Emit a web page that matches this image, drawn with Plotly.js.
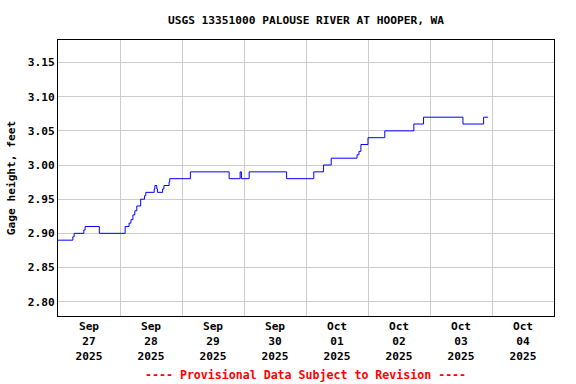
<!DOCTYPE html>
<html>
<head>
<meta charset="utf-8">
<script src="https://cdn.plot.ly/plotly-3.0.1.min.js"></script>
<style>
  html, body { margin: 0; padding: 0; background: #fff; }
  #chart { width: 576px; height: 384px; }
</style>
</head>
<body>
<div id="chart"></div>
<script>
// Gage height step changes (time of change, value in feet)
const times = [
  '2025-09-27 00:00', '2025-09-27 05:45', '2025-09-27 06:15', '2025-09-27 10:00',
  '2025-09-27 10:30', '2025-09-27 16:00', '2025-09-28 02:00', '2025-09-28 03:30',
  '2025-09-28 04:15', '2025-09-28 05:00', '2025-09-28 05:45', '2025-09-28 06:30',
  '2025-09-28 08:00', '2025-09-28 09:30', '2025-09-28 10:00', '2025-09-28 13:15',
  '2025-09-28 13:30', '2025-09-28 14:15', '2025-09-28 14:30', '2025-09-28 16:30',
  '2025-09-28 17:00', '2025-09-28 19:00', '2025-09-28 19:15', '2025-09-29 03:15',
  '2025-09-29 18:15', '2025-09-29 22:30', '2025-09-29 23:00', '2025-09-30 02:00',
  '2025-09-30 16:30', '2025-10-01 03:00', '2025-10-01 06:45', '2025-10-01 09:45',
  '2025-10-01 19:45', '2025-10-01 20:30', '2025-10-01 21:15', '2025-10-02 00:00',
  '2025-10-02 06:30', '2025-10-02 17:45', '2025-10-02 21:30', '2025-10-03 12:45',
  '2025-10-03 20:45', '2025-10-03 22:30'
];
const gageHeight = [
  2.89, 2.895, 2.90, 2.905,
  2.91, 2.90, 2.91, 2.915,
  2.92, 2.927, 2.933, 2.94,
  2.95, 2.955, 2.96, 2.965,
  2.97, 2.965, 2.96, 2.965,
  2.97, 2.975, 2.98, 2.99,
  2.98, 2.99, 2.98, 2.99,
  2.98, 2.99, 3.00, 3.01,
  3.015, 3.02, 3.03, 3.04,
  3.05, 3.06, 3.07, 3.06,
  3.07, 3.07
];

// X tick labels (centered at noon of each day)
const xTickVals = [
  '2025-09-27 12:00', '2025-09-28 12:00', '2025-09-29 12:00', '2025-09-30 12:00',
  '2025-10-01 12:00', '2025-10-02 12:00', '2025-10-03 12:00', '2025-10-04 12:00'
];
const xTickText = [
  'Sep<br>27<br>2025', 'Sep<br>28<br>2025', 'Sep<br>29<br>2025', 'Sep<br>30<br>2025',
  'Oct<br>01<br>2025', 'Oct<br>02<br>2025', 'Oct<br>03<br>2025', 'Oct<br>04<br>2025'
];
const yTickVals = [2.80, 2.85, 2.90, 2.95, 3.00, 3.05, 3.10, 3.15];
const yTickText = ['2.80', '2.85', '2.90', '2.95', '3.00', '3.05', '3.10', '3.15'];

const FONT = '"DejaVu Sans Mono", "Liberation Mono", monospace';
const fs = 11.2;

const trace = {
  x: times,
  y: gageHeight,
  type: 'scatter',
  mode: 'lines',
  line: { color: '#0000ff', width: 1, shape: 'hv' },
  hoverinfo: 'skip'
};

const layout = {
  width: 576,
  height: 384,
  margin: { l: 58, r: 22, t: 40, b: 68, pad: 0 },
  paper_bgcolor: '#ffffff',
  plot_bgcolor: '#ffffff',
  showlegend: false,
  font: { family: FONT, size: fs, color: '#000000', weight: 'bold' },
  title: {
    text: '<b>USGS 13351000 PALOUSE RIVER AT HOOPER, WA</b>',
    font: { family: FONT, size: fs, color: '#000000' },
    x: 0.5, xanchor: 'center', xref: 'paper',
    y: 1 - 20 / 384, yanchor: 'middle', yref: 'container'
  },
  xaxis: {
    type: 'date',
    range: ['2025-09-27 00:00', '2025-10-05 00:00'],
    tickmode: 'array',
    tickvals: xTickVals,
    ticktext: xTickText,
    ticks: '',
    showgrid: false,
    zeroline: false,
    showline: true,
    linecolor: '#000000',
    linewidth: 1,
    mirror: true,
    tickfont: { family: FONT, size: fs, color: '#000000', weight: 'bold' },
    minor: {
      tickmode: 'linear',
      tick0: '2025-09-27 00:00',
      dtick: 86400000,
      showgrid: true,
      gridcolor: '#cccccc',
      gridwidth: 1,
      ticks: ''
    },
    fixedrange: true
  },
  yaxis: {
    range: [2.779, 3.183],
    tickmode: 'array',
    tickvals: yTickVals,
    ticktext: yTickText,
    ticks: '',
    showgrid: true,
    gridcolor: '#cccccc',
    gridwidth: 1,
    zeroline: false,
    showline: true,
    linecolor: '#000000',
    linewidth: 1,
    mirror: true,
    tickfont: { family: FONT, size: fs, color: '#000000', weight: 'bold' },
    title: {
      text: '<b>Gage height, feet</b>',
      font: { family: FONT, size: fs, color: '#000000' },
      standoff: 9
    },
    fixedrange: true
  },
  annotations: [{
    text: '<b>---- Provisional Data Subject to Revision ----</b>',
    xref: 'paper', yref: 'paper',
    x: (305.5 - 58) / 496, y: -(375 - 316) / 276,
    xanchor: 'center', yanchor: 'middle',
    showarrow: false,
    font: { family: FONT, size: 11.6, color: '#ff0000' }
  }]
};

Plotly.newPlot('chart', [trace], layout, { staticPlot: true, displayModeBar: false });
</script>
</body>
</html>
